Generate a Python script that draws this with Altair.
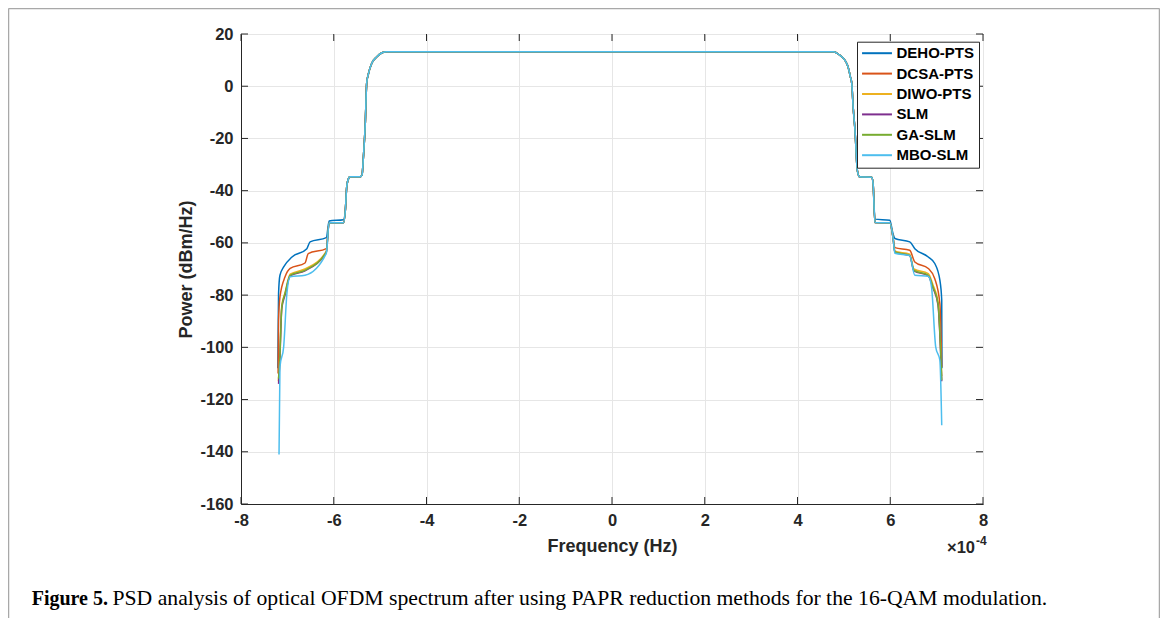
import altair as alt
import pandas as pd

# ---------------- data ----------------
series_names = ["DEHO-PTS", "DCSA-PTS", "DIWO-PTS", "SLM", "GA-SLM", "MBO-SLM"]
series_colors = ["#0072BD", "#D95319", "#EDB120", "#7E2F8E", "#77AC30", "#4DBEEE"]

x_ticks = [-8, -6, -4, -2, 0, 2, 4, 6, 8]
y_ticks = [-160, -140, -120, -100, -80, -60, -40, -20, 0, 20]

# shared central part of the spectrum (x in units of 1e-4 Hz)
core_f = [-5.75, -5.72, -5.68, -5.65, -5.43, -5.39, -5.36, -5.32, -5.29, -5.25, -5.18, -5.07,
          -4.96, -4.86, 4.77, 4.91, 5.02, 5.09, 5.14, 5.17, 5.20, 5.24, 5.29, 5.34, 5.60, 5.63]
core_p = [-47.5, -38.5, -35.3, -34.7, -34.7, -34.0, -27.0, -14.3, 1.1, 4.9, 8.8, 11.3,
          12.8, 13.2, 13.2, 11.9, 10.0, 7.4, 3.6, 1.1, -7.9, -16.9, -32.2, -34.7, -34.9, -37.3]

deho_left_f = [-7.205, -7.20, -7.19, -7.16, -7.08, -6.90, -6.58, -6.51, -6.16, -6.10, -5.79]
deho_left_p = [-108.0, -96.0, -79.4, -72.4, -69.2, -65.4, -62.2, -59.6, -58.0, -51.6, -51.1]
deho_right_f = [5.67, 5.99, 6.06, 6.10, 6.42, 6.53, 6.82, 6.96, 7.07, 7.11, 7.115]
deho_right_p = [-50.9, -51.3, -56.5, -58.3, -59.6, -62.2, -65.4, -67.9, -74.3, -81.9, -108.0]

dcsa_left_f = [-7.20, -7.19, -7.16, -7.05, -6.94, -6.62, -6.55, -6.16, -6.10, -5.79]
dcsa_left_p = [-110.0, -89.6, -80.7, -73.0, -69.8, -67.7, -64.1, -62.2, -52.3, -52.3]
dcsa_right_f = [5.67, 5.99, 6.06, 6.10, 6.42, 6.53, 6.82, 6.96, 7.07, 7.11]
dcsa_right_p = [-52.2, -52.3, -58.0, -61.8, -62.8, -67.3, -69.8, -73.7, -83.2, -107.5]

diwo_left_f = [-7.195, -7.17, -7.12, -7.05, -6.94, -6.62, -6.16, -6.10, -5.79]
diwo_left_p = [-113.0, -106.0, -84.0, -79.0, -72.0, -70.0, -63.2, -52.3, -52.3]
diwo_right_f = [5.67, 5.99, 6.06, 6.10, 6.42, 6.51, 6.82, 6.92, 7.03, 7.11]
diwo_right_p = [-52.2, -52.3, -58.0, -63.2, -64.3, -70.0, -71.8, -76.0, -82.5, -111.0]

slm_left_f = [-7.19, -7.17, -7.12, -7.05, -6.94, -6.62, -6.16, -6.10, -5.79]
slm_left_p = [-114.0, -108.0, -85.0, -80.0, -72.6, -70.7, -63.6, -52.3, -52.3]
slm_right_f = [5.67, 5.99, 6.06, 6.10, 6.42, 6.51, 6.82, 6.92, 7.03, 7.11]
slm_right_p = [-52.2, -52.3, -58.0, -63.6, -64.9, -70.7, -72.6, -77.2, -83.8, -113.0]

ga_left_f = [-7.19, -7.17, -7.12, -7.05, -6.94, -6.62, -6.16, -6.10, -5.79]
ga_left_p = [-112.0, -107.5, -84.5, -79.4, -72.4, -70.5, -63.5, -52.3, -52.3]
ga_right_f = [5.67, 5.99, 6.06, 6.10, 6.42, 6.51, 6.82, 6.92, 7.03, 7.11]
ga_right_p = [-52.2, -52.3, -58.0, -63.5, -64.8, -70.5, -72.4, -76.9, -83.2, -112.6]

mbo_left_f = [-7.18, -7.16, -7.08, -7.01, -6.94, -6.62, -6.16, -6.10, -5.79]
mbo_left_p = [-141.0, -107.5, -99.8, -79.4, -73.0, -72.4, -64.0, -52.3, -52.3]
mbo_right_f = [5.67, 5.99, 6.06, 6.10, 6.42, 6.53, 6.82, 6.89, 6.98, 7.07, 7.11]
mbo_right_p = [-52.2, -52.3, -58.0, -64.0, -64.8, -72.4, -72.8, -76.9, -99.8, -105.0, -129.8]

caption_bold = "Figure 5."
caption_text = ("PSD analysis of optical OFDM spectrum after using PAPR reduction "
                "methods for the 16-QAM modulation.")

# ---------------- build table ----------------
tails = {
    "DEHO-PTS": (deho_left_f, deho_left_p, deho_right_f, deho_right_p),
    "DCSA-PTS": (dcsa_left_f, dcsa_left_p, dcsa_right_f, dcsa_right_p),
    "DIWO-PTS": (diwo_left_f, diwo_left_p, diwo_right_f, diwo_right_p),
    "SLM": (slm_left_f, slm_left_p, slm_right_f, slm_right_p),
    "GA-SLM": (ga_left_f, ga_left_p, ga_right_f, ga_right_p),
    "MBO-SLM": (mbo_left_f, mbo_left_p, mbo_right_f, mbo_right_p),
}
rows = []
for name in series_names:
    lf, lp, rf, rp = tails[name]
    fs = lf + core_f + rf
    ps = lp + core_p + rp
    for i, (f, p) in enumerate(zip(fs, ps)):
        rows.append({"s": name, "f": f, "p": p, "i": i})
df = pd.DataFrame(rows)

W, H = 742, 470
FONT = "Liberation Sans"
DARK = "#262626"

x_axis = alt.Axis(values=x_ticks, ticks=False, grid=True, gridColor="#e6e6e6",
                  domainColor=DARK, labelFont=FONT, labelFontWeight="bold", labelFontSize=16.5,
                  labelColor=DARK, labelPadding=8, labelFlush=False, labelOverlap=False,
                  labelExpr="'' + datum.value",
                  title="Frequency (Hz)", titleFont=FONT, titleFontSize=18, titleFontWeight="bold",
                  titleColor=DARK, titleX=W / 2, titleY=42, titleAlign="center",
                  titleBaseline="middle")
y_axis = alt.Axis(values=y_ticks, ticks=False, grid=True, gridColor="#e6e6e6",
                  domainColor=DARK, labelFont=FONT, labelFontWeight="bold", labelFontSize=16.5,
                  labelColor=DARK, labelPadding=8, labelFlush=False, labelOverlap=False,
                  labelExpr="'' + datum.value",
                  title="Power (dBm/Hz)", titleFont=FONT, titleFontSize=18, titleFontWeight="bold",
                  titleColor=DARK, titleX=-55, titleY=H / 2, titleAngle=270, titleAlign="center",
                  titleBaseline="middle")

xenc = alt.X("f:Q", scale=alt.Scale(domain=[-8, 8], nice=False, zero=False), axis=x_axis)
yenc = alt.Y("p:Q", scale=alt.Scale(domain=[-160, 20], nice=False, zero=False), axis=y_axis)

legend = alt.Legend(orient="none", legendX=616, legendY=7.7, title=None, direction="vertical",
                    symbolType="M-2.3,0H2.3", symbolSize=169, symbolStrokeWidth=2,
                    symbolOffset=8.5, labelOffset=12, labelFont=FONT,
                    labelFontWeight="bold", labelFontSize=15, labelColor="#000000",
                    padding=4, rowPadding=4.4, strokeColor=DARK, fillColor="white",
                    labelLimit=300)
cenc = alt.Color("s:N", scale=alt.Scale(domain=series_names, range=series_colors),
                 legend=legend)

line_layers = []
for name in series_names:
    line_layers.append(
        alt.Chart(df).transform_filter(alt.datum.s == name)
        .mark_line(strokeWidth=1.5, clip=True, interpolate="monotone")
        .encode(x=xenc, y=yenc, color=cenc, order="i:Q")
    )

xt = pd.DataFrame({"f": x_ticks})
yt = pd.DataFrame({"p": y_ticks})
tick_layers = [
    alt.Chart(xt).mark_rule(color=DARK, strokeWidth=1).encode(x=xenc, y=alt.value(H), y2=alt.value(H - 7)),
    alt.Chart(xt).mark_rule(color=DARK, strokeWidth=1).encode(x=xenc, y=alt.value(0), y2=alt.value(7)),
    alt.Chart(yt).mark_rule(color=DARK, strokeWidth=1).encode(y=yenc, x=alt.value(0), x2=alt.value(7)),
    alt.Chart(yt).mark_rule(color=DARK, strokeWidth=1).encode(y=yenc, x=alt.value(W), x2=alt.value(W - 7)),
]

one = pd.DataFrame({"t": [""]})
text_layers = [
    alt.Chart(one).mark_text(text="×10", font=FONT, fontWeight="bold", fontSize=16.5, color=DARK,
                             align="right", baseline="alphabetic")
    .encode(x=alt.value(734), y=alt.value(519)),
    alt.Chart(one).mark_text(text="-4", font=FONT, fontWeight="bold", fontSize=12, color=DARK,
                             align="left", baseline="alphabetic")
    .encode(x=alt.value(735), y=alt.value(511)),
    alt.Chart(one).mark_text(text=caption_bold, font="Liberation Serif", fontWeight="bold",
                             fontSize=20, color="#000000", align="left", baseline="alphabetic")
    .encode(x=alt.value(-209.3), y=alt.value(570.5)),
    alt.Chart(one).mark_text(text=caption_text, font="Liberation Serif", fontSize=21.7,
                             color="#000000", align="left", baseline="alphabetic")
    .encode(x=alt.value(-128.5), y=alt.value(570.5)),
]

frame_layers = [
    alt.Chart(one).mark_rule(color="#a8a8a8", strokeWidth=1.5)
    .encode(x=alt.value(-232.5), x2=alt.value(918.5), y=alt.value(-25.5)),
    alt.Chart(one).mark_rule(color="#a8a8a8", strokeWidth=1.5)
    .encode(x=alt.value(-232.5), y=alt.value(-25.5), y2=alt.value(590)),
    alt.Chart(one).mark_rule(color="#a8a8a8", strokeWidth=1.5)
    .encode(x=alt.value(918.5), y=alt.value(-25.5), y2=alt.value(590)),
]

chart = (
    alt.layer(*line_layers, *tick_layers, *text_layers, *frame_layers)
    .properties(width=W, height=H,
                padding={"left": 233, "top": 26, "right": 177, "bottom": 114},
                autosize=alt.AutoSizeParams(type="none"))
    .configure_view(stroke=DARK, strokeWidth=1)
)

chart.save("out.html", embed_options={"renderer": "svg", "actions": False})
